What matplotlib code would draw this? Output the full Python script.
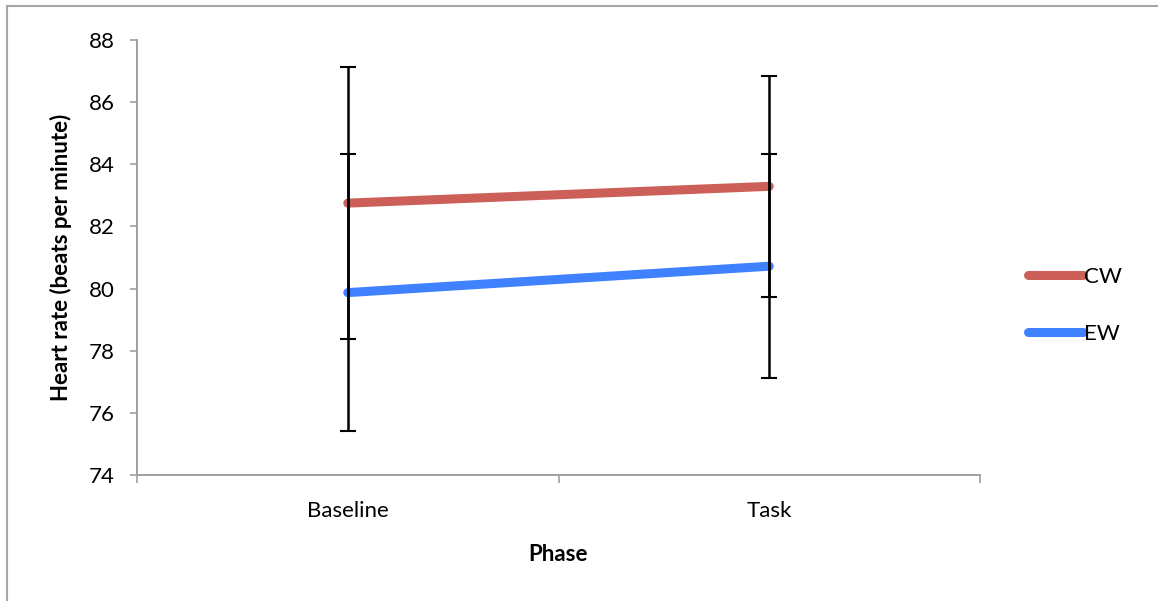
import matplotlib.pyplot as plt
from matplotlib.patches import Rectangle

# heart rate means and error bars per phase
phases = ['Baseline', 'Task']
cw_mean = [82.75, 83.29]
cw_err = [4.37, 3.55]
ew_mean = [79.87, 80.72]
ew_err = [4.45, 3.61]
y_ticks = [74, 76, 78, 80, 82, 84, 86, 88]

plt.rcParams['font.family'] = ['Lato', 'DejaVu Sans']

fig = plt.figure(figsize=(11.58, 6.01), dpi=100)
ax = fig.add_axes([137 / 1158, 1 - 475 / 601, (980 - 137) / 1158, (475 - 40) / 601])

red = '#CC6058'
blue = '#4081FF'
x = [1, 2]

ax.plot(x, cw_mean, color=red, lw=6.5, solid_capstyle='round', label='CW', zorder=2)
ax.plot(x, ew_mean, color=blue, lw=6.5, solid_capstyle='round', label='EW', zorder=2)
ax.errorbar(x, cw_mean, yerr=cw_err, fmt='none', ecolor='black', elinewidth=1.8,
            capsize=5.8, capthick=1.5, zorder=3)
ax.errorbar(x, ew_mean, yerr=ew_err, fmt='none', ecolor='black', elinewidth=1.8,
            capsize=5.8, capthick=1.5, zorder=3)

ax.set_xlim(0.5, 2.5)
ax.set_ylim(74, 88)
ax.set_yticks(y_ticks)
ax.set_yticklabels([str(v) for v in y_ticks], fontsize=16)

# category labels centred, ticks on the boundaries
ax.set_xticks([0.5, 1.5, 2.5])
ax.set_xticklabels([])
ax.set_xticks(x, minor=True)
ax.set_xticklabels(phases, minor=True, fontsize=16)
ax.tick_params(axis='x', which='minor', length=0, pad=19)
ax.tick_params(axis='x', which='major', length=6, width=1.2, color='#A0A0A0')
ax.tick_params(axis='y', length=5, width=1.2, color='#A0A0A0', pad=11)

for side in ['top', 'right']:
    ax.spines[side].set_visible(False)
for side in ['left', 'bottom']:
    ax.spines[side].set_color('#A0A0A0')
    ax.spines[side].set_linewidth(1.4)

ax.set_ylabel('Heart rate (beats per minute)', fontsize=16, fontweight='bold', labelpad=12)
ax.set_xlabel('Phase', fontsize=16, fontweight='bold', labelpad=16)

ax.legend(loc='center left', bbox_to_anchor=(1.033, 0.39), frameon=False, fontsize=16,
          handlelength=2.5, handletextpad=0.05, labelspacing=1.65)

# chart frame
fig.patches.append(Rectangle((7 / 1158, -0.1), 1.2, 1 - 6 / 601 + 0.1, transform=fig.transFigure,
                             fill=False, edgecolor='#A6A6A6', lw=1.5))

fig.savefig('out.png', dpi=100, facecolor='white')
